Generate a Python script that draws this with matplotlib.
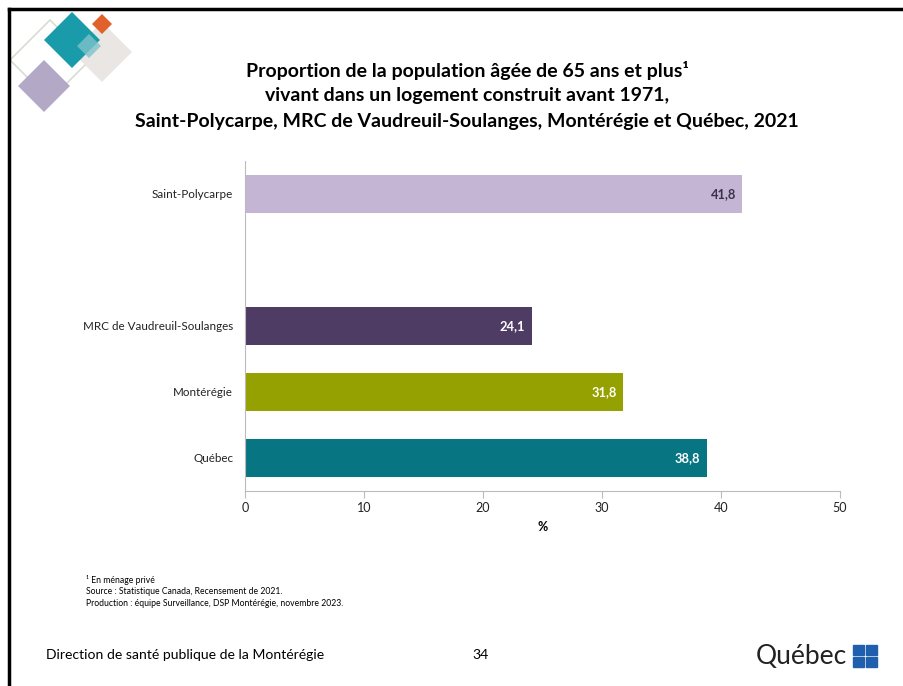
import matplotlib
matplotlib.use('Agg')
import matplotlib.pyplot as plt
from matplotlib.patches import Polygon, Rectangle
from matplotlib.lines import Line2D

plt.rcParams['font.family'] = ['Lato', 'DejaVu Sans']

# data (bottom to top, blank slot between Saint-Polycarpe and the others)
regions = ['Québec', 'Montérégie', 'MRC de Vaudreuil-Soulanges', 'Saint-Polycarpe']
positions = [0, 1, 2, 4]
values = [38.8, 31.8, 24.1, 41.8]
labels = ['38,8', '31,8', '24,1', '41,8']
colors = ['#087583', '#94A100', '#4E3C64', '#C3B5D3']
label_colors = ['white', 'white', 'white', '#3B3148']
xticks = [0, 10, 20, 30, 40, 50]

fig = plt.figure(figsize=(9.04, 6.86), dpi=100)
ax = fig.add_axes([245/904, 1-491/686, (840-245)/904, 330/686])

ax.barh(positions, values, height=0.58, color=colors, edgecolor='none')
for p, v, lab, c in zip(positions, values, labels, label_colors):
    ax.text(v - 0.55, p, lab, ha='right', va='center', color=c,
            fontsize=9.3, fontweight='bold')

ax.set_xlim(0, 50)
ax.set_ylim(-0.5, 4.5)
ax.set_xticks(xticks)
ax.set_xticklabels([str(t) for t in xticks], fontsize=9, color='#222222')
ax.set_yticks(positions)
ax.set_yticklabels(regions, fontsize=8.4, color='#222222')
ax.tick_params(axis='y', length=0, pad=8.5)
ax.tick_params(axis='x', length=5, color='#BBBBBB', pad=3)
for s in ['top', 'right']:
    ax.spines[s].set_visible(False)
ax.spines['left'].set_color('#BBBBBB')
ax.spines['bottom'].set_color('#BBBBBB')
ax.set_xlabel('%', fontsize=9, fontweight='bold', labelpad=5)

# title
fig.text(467/904, 1-70/686, 'Proportion de la population âgée de 65 ans et plus¹',
         ha='center', va='center', fontsize=14, fontweight='bold')
fig.text(467/904, 1-96/686, 'vivant dans un logement construit avant 1971,',
         ha='center', va='center', fontsize=14, fontweight='bold')
fig.text(467/904, 1-121/686, 'Saint-Polycarpe, MRC de Vaudreuil-Soulanges, Montérégie et Québec, 2021',
         ha='center', va='center', fontsize=14, fontweight='bold')

# notes
fig.text(86/904, 1-580/686, '¹ En ménage privé', fontsize=6.2, va='center')
fig.text(86/904, 1-592/686, 'Source : Statistique Canada, Recensement de 2021.', fontsize=6.2, va='center')
fig.text(86/904, 1-604/686, 'Production : équipe Surveillance, DSP Montérégie, novembre 2023.',
         fontsize=6.2, va='center')

# footer
fig.text(46/904, 1-655/686, 'Direction de santé publique de la Montérégie', fontsize=10.1, va='center')
fig.text(481/904, 1-655/686, '34', fontsize=10.1, va='center', ha='center')
fig.text(756/904, 1-657/686, 'Québec', fontsize=19, va='center', color='#222222')
for dx in (0, 1):
    for dy in (0, 1):
        fig.patches.append(Rectangle(((853 + dx*13)/904, 1-(645 + dy*12 + 10)/686), 11/904, 10/686,
                                     transform=fig.transFigure, color='#1F5FAE'))

# slide border
fig.add_artist(Line2D([9/904, 9/904], [0, 1-9/686], transform=fig.transFigure, color='black', lw=2.5))
fig.add_artist(Line2D([9/904, 1], [1-9/686, 1-9/686], transform=fig.transFigure, color='black', lw=2.5))

# decorative diamonds
def diamond(cx, cy, r, **kw):
    pts = [((cx)/904, 1-(cy-r)/686), ((cx+r)/904, 1-cy/686),
           (cx/904, 1-(cy+r)/686), ((cx-r)/904, 1-cy/686)]
    fig.patches.append(Polygon(pts, closed=True, transform=fig.transFigure, **kw))

diamond(50, 60, 40, fill=False, edgecolor='#D9DDD0', lw=1.2)
diamond(102, 52, 30, facecolor='#E9E6E3', edgecolor='none')
diamond(44, 86, 26, facecolor='#B3A9C6', edgecolor='none')
diamond(72, 40, 28, facecolor='#1A9BAA', edgecolor='none')
diamond(102, 24, 10, facecolor='#E2612A', edgecolor='none')
diamond(89, 46, 12, facecolor='#7EC2CA', edgecolor='none', alpha=0.8)

fig.savefig('out.png', dpi=100)
